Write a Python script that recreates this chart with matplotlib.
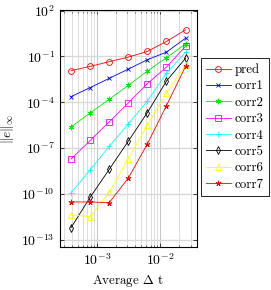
import numpy as np
import matplotlib
matplotlib.use("Agg")
import matplotlib.pyplot as plt
from matplotlib.ticker import LogLocator, FixedLocator, FuncFormatter, NullFormatter

plt.rcParams['mathtext.fontset'] = 'cm'
plt.rcParams['font.family'] = ['cmr10', 'DejaVu Serif']
plt.rcParams['axes.formatter.use_mathtext'] = True

dt = [3.90625e-4, 7.8125e-4, 1.5625e-3, 3.125e-3, 6.25e-3, 1.25e-2, 2.5e-2]
labels = ["pred", "corr1", "corr2", "corr3", "corr4", "corr5", "corr6", "corr7"]
pred = [1.17e-2, 2.22e-2, 4.51e-2, 9.0e-2, 0.211, 0.951, 5.51]
corr1 = [2.34e-4, 9.08e-4, 3.66e-3, 1.48e-2, 6.08e-2, 0.191, 1.56]
corr2 = [2.44e-6, 2.0e-5, 1.56e-4, 1.28e-3, 1.10e-2, 8.22e-2, 0.653]
corr3 = [1.91e-8, 3.16e-7, 5.18e-6, 8.97e-5, 1.66e-3, 2.0e-2, 0.462]
corr4 = [1.21e-10, 3.83e-9, 1.29e-7, 3.83e-6, 1.21e-4, 8.13e-3, 0.191]
corr5 = [6.30e-13, 6.05e-11, 4.06e-9, 2.85e-7, 2.12e-5, 2.44e-3, 7.62e-2]
corr6 = [4.25e-12, 3.29e-12, 1.28e-10, 2.0e-8, 3.30e-6, 4.03e-4, 2.91e-2]
corr7 = [2.99e-11, 2.99e-11, 2.69e-11, 1.10e-9, 1.90e-7, 6.07e-5, 2.22e-2]
series = [pred, corr1, corr2, corr3, corr4, corr5, corr6, corr7]
yticks = [1e-13, 1e-10, 1e-7, 1e-4, 1e-1, 1e2]

styles = [
    dict(color='#ff0000', marker='o', ms=4.2, mfc='none'),
    dict(color='#0000ff', marker='x', ms=3.5),
    dict(color='#00ee00', marker=(6, 2, 0), ms=4.0),
    dict(color='#ff00ff', marker='s', ms=4.5, mfc='none'),
    dict(color='#00ffff', marker='+', ms=4.5),
    dict(color='#000000', marker='d', ms=3.8, mfc='none'),
    dict(color='#ffff00', marker='^', ms=4.0, mfc='none'),
    dict(color='#ff0000', marker=(5, 2, 0), ms=4.0),
]

fig = plt.figure(figsize=(2.71, 2.90), dpi=100)
ax = fig.add_axes([0.220, 0.147, 0.507, 0.8185])
ax.set_xscale('log')
ax.set_yscale('log')

handles = []
for lab, ys, st in zip(labels, series, styles):
    h, = ax.plot(dt, ys, lw=0.6, mew=0.6, label=lab, **st)
    handles.append(h)

lx = np.log10(dt)
xr = lx.max() - lx.min()
ax.set_xlim(10 ** (lx.min() - 0.1 * xr), 10 ** (lx.max() + 0.1 * xr))
ally = np.log10(np.concatenate([np.array(s) for s in series]))
yr = ally.max() - ally.min()
ax.set_ylim(10 ** (ally.min() - 0.1 * yr), 10 ** (ally.max() + 0.1 * yr))

ax.yaxis.set_major_locator(FixedLocator(yticks))
ax.yaxis.set_minor_locator(FixedLocator([]))
ax.xaxis.set_major_locator(LogLocator(base=10))
ax.xaxis.set_minor_locator(LogLocator(base=10, subs=np.arange(2, 10)))
ax.xaxis.set_minor_formatter(NullFormatter())
fmt = FuncFormatter(lambda v, p: r'$10^{%d}$' % int(round(np.log10(v))))
ax.xaxis.set_major_formatter(fmt)
ax.yaxis.set_major_formatter(fmt)

ax.grid(True, which='major', axis='x', color='#bdbdbd', lw=0.6)
ax.grid(True, which='minor', axis='x', color='#cfcfcf', lw=0.5)
ax.grid(True, which='major', axis='y', color='#d9d9d9', lw=1.0)
ax.set_axisbelow(True)

ax.tick_params(which='both', direction='in', top=True, right=True, labelsize=10, pad=3.5)
ax.tick_params(which='major', length=3, width=0.5)
ax.tick_params(which='minor', length=1.8, width=0.4)
for sp in ax.spines.values():
    sp.set_linewidth(0.8)

ax.set_xlabel(r'Average $\Delta$ t', fontsize=9.3, labelpad=4)
ax.set_ylabel(r'$\|e\|_\infty$', fontsize=9.5, labelpad=4)

leg = fig.legend(handles=handles, loc='upper left', bbox_to_anchor=(0.7417, 0.799),
                 bbox_transform=fig.transFigure, borderaxespad=0, fontsize=9.3,
                 handlelength=1.9, handletextpad=0.3, labelspacing=0.33,
                 borderpad=0.4, fancybox=False, framealpha=1, edgecolor='black')
leg.get_frame().set_linewidth(0.6)

fig.savefig('out.png', dpi=100)
